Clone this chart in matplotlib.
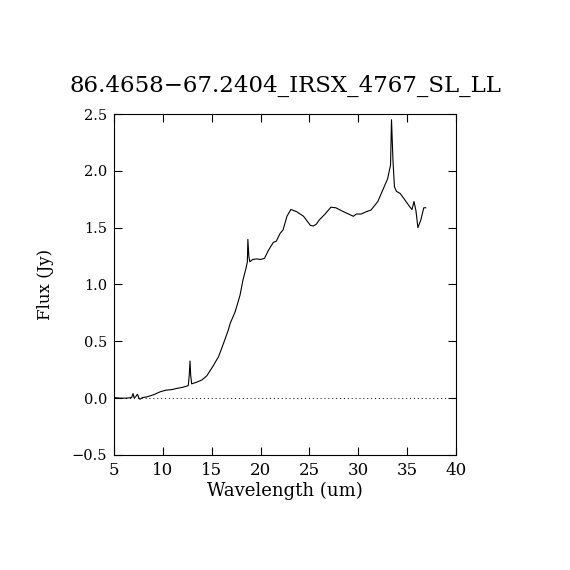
import matplotlib
matplotlib.use("Agg")
import matplotlib.pyplot as plt

# spectrum
wavelength = [
    5.0, 5.6, 6.2, 6.8, 6.95, 7.05, 7.2, 7.4, 7.55, 7.66, 7.9, 8.3, 8.7,
    9.2, 9.7, 10.3, 10.9, 11.4, 12.0, 12.6, 12.7, 12.78, 12.85, 12.95,
    13.45, 14.0, 14.5, 15.1, 15.7, 16.2, 16.7, 16.9, 17.4, 17.9, 18.2,
    18.5, 18.65, 18.7, 18.8, 18.9, 19.2, 19.6, 20.0, 20.4, 20.8, 21.3,
    21.6, 22.0, 22.3, 22.7, 23.1, 23.7, 24.4, 25.1, 25.4, 25.7, 26.0,
    26.6, 27.2, 27.7, 28.5, 29.5, 29.8, 30.3, 30.8, 31.3, 32.0, 32.5,
    33.0, 33.3, 33.4, 33.55, 33.7, 33.9, 34.3, 34.8, 35.3, 35.5, 35.7,
    35.9, 36.1, 36.4, 36.7, 36.9,
]
flux = [
    0.005, 0.0, 0.0, 0.005, 0.04, 0.005, 0.01, 0.035, 0.0, -0.01, 0.005,
    0.01, 0.02, 0.035, 0.055, 0.07, 0.075, 0.085, 0.095, 0.11, 0.2, 0.327,
    0.2, 0.126, 0.14, 0.16, 0.197, 0.277, 0.365, 0.48, 0.6, 0.66, 0.76,
    0.907, 1.04, 1.14, 1.2, 1.397, 1.25, 1.2, 1.22, 1.225, 1.22, 1.23,
    1.3, 1.37, 1.38, 1.45, 1.48, 1.6, 1.66, 1.64, 1.6, 1.52, 1.515, 1.53,
    1.567, 1.62, 1.68, 1.675, 1.64, 1.6, 1.62, 1.62, 1.64, 1.655, 1.73,
    1.83, 1.93, 2.05, 2.45, 2.09, 1.86, 1.82, 1.80, 1.74, 1.68, 1.66,
    1.73, 1.65, 1.50, 1.567, 1.675, 1.675,
]

title = "86.4658\u221267.2404_IRSX_4767_SL_LL"
x_ticks = [5, 10, 15, 20, 25, 30, 35, 40]
y_ticks = [-0.5, 0.0, 0.5, 1.0, 1.5, 2.0, 2.5]

plt.rcParams["font.family"] = ["DejaVu Serif"]
plt.rcParams["axes.unicode_minus"] = True

fig = plt.figure(figsize=(5.7, 5.7), dpi=100)
ax = fig.add_axes([0.2, 0.2018, 0.6, 0.5982])

ax.plot(wavelength, flux, color="black", linewidth=0.8)
ax.plot([5, 40], [0, 0], color="black", linestyle=(0, (1, 3)), linewidth=0.7)

ax.set_xlim(5, 40)
ax.set_ylim(-0.5, 2.5)
ax.set_xticks(x_ticks)
ax.set_yticks(y_ticks)
ax.set_xticklabels([str(t) for t in x_ticks])
ax.set_yticklabels([f"{t:.1f}".replace("-", "\u2212") for t in y_ticks])
ax.tick_params(direction="in", length=6, width=0.8, top=True, right=True,
               labelsize=12, pad=5)
ax.tick_params(axis="y", labelsize=10.5)
for spine in ax.spines.values():
    spine.set_linewidth(0.8)

ax.set_xlabel("Wavelength (um)", fontsize=13, labelpad=2)
ax.set_ylabel("Flux (Jy)", fontsize=12, labelpad=13)
ax.set_title(title, fontsize=16.5, pad=16)

fig.savefig("out.png", dpi=100)
